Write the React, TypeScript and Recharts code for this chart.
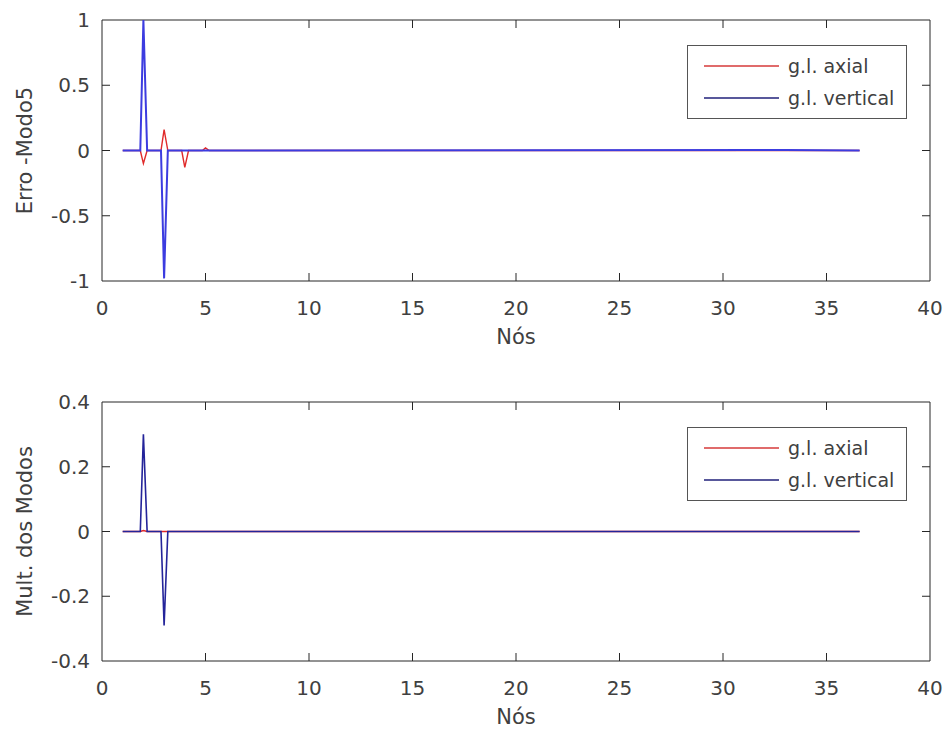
import React from 'react';
import { LineChart, Line, XAxis, YAxis, Legend, ReferenceLine } from 'recharts';

// node positions (spikes are drawn narrow around each node)
const nodes = [1, 1.85, 2, 2.18, 2.85, 3, 3.18, 3.85, 4, 4.18, 4.85, 5, 5.18, 33, 36.6];

// Erro - Modo5
const erroAxial = [0, 0, -0.1, 0, 0, 0.16, 0, 0, -0.13, 0, 0, 0.02, 0, 0, 0];
const erroVertical = [0, 0, 1, 0, 0, -0.98, 0, 0, 0, 0, 0, 0, 0, 0.004, 0];

// Mult. dos Modos
const multAxial = [0, 0, 0.003, 0, 0, 0, 0, 0, 0, 0, 0, 0, 0, 0, 0];
const multVertical = [0, 0, 0.3, 0, 0, -0.29, 0, 0, 0, 0, 0, 0, 0, 0, 0];

const xTicks = [0, 5, 10, 15, 20, 25, 30, 35, 40];
const erroTicks = [-1, -0.5, 0, 0.5, 1];
const multTicks = [-0.4, -0.2, 0, 0.2, 0.4];

const FONT = '"DejaVu Sans", Arial, sans-serif';
const AXIS = '#262626';
const TEXT = '#404040';
const TICK_LEN = 8;

const seriesNames = { axial: 'g.l. axial', vertical: 'g.l. vertical' };
const legendColors: Record<string, string> = { axial: '#d63a3a', vertical: '#20207a' };

const W = 947;
const PLOT_LEFT = 102;
const PLOT_RIGHT = 930;

function LegendBox({ payload }: any) {
    return (
        <div style={{ position: 'relative', width: 220, height: 74, border: '1px solid #555', background: '#fff', boxSizing: 'border-box', fontFamily: FONT, fontSize: 19, color: TEXT }}>
            {(payload || []).map((p: any, i: number) => (
                <div key={i} style={{ position: 'absolute', left: 0, top: 7 + i * 32, height: 26, display: 'flex', alignItems: 'center' }}>
                    <svg width={100} height={26} style={{ display: 'block' }}>
                        <line x1={16} x2={91} y1={13} y2={13} stroke={legendColors[p.dataKey]} strokeWidth={1.3} />
                    </svg>
                    <span>{p.value}</span>
                </div>
            ))}
        </div>
    );
}

function Panel({
    height,
    top,
    xAxisHeight,
    yLabel,
    yTicks,
    axial,
    vertical,
    blue,
    blueWidth,
}: {
    height: number;
    top: number;
    xAxisHeight: number;
    yLabel: string;
    yTicks: number[];
    axial: number[];
    vertical: number[];
    blue: string;
    blueWidth: number;
}) {
    const data = nodes.map((x, i) => ({ x, axial: axial[i], vertical: vertical[i] }));
    const xMin = xTicks[0];
    const xMax = xTicks[xTicks.length - 1];
    const yMin = yTicks[0];
    const yMax = yTicks[yTicks.length - 1];
    // tick length in data units (MATLAB style inward ticks on all four sides)
    const dx = (TICK_LEN * (xMax - xMin)) / (PLOT_RIGHT - PLOT_LEFT);
    const dy = (TICK_LEN * (yMax - yMin)) / (height - xAxisHeight - top);
    const tickStyle = { fontFamily: FONT, fontSize: 20, fill: TEXT };
    return (
        <LineChart
            width={W}
            height={height}
            data={data}
            margin={{ top, right: W - PLOT_RIGHT, bottom: 0, left: 0 }}
        >
            <XAxis
                dataKey="x"
                type="number"
                domain={[xMin, xMax]}
                ticks={xTicks}
                interval={0}
                height={xAxisHeight}
                tickSize={0}
                tickMargin={20}
                tick={tickStyle}
                axisLine={false}
                tickLine={false}
                label={(props: any) => {
                    const vb = props.viewBox;
                    return (
                        <text x={vb.x + vb.width / 2} y={vb.y + 56} textAnchor="middle" dominantBaseline="central" fontFamily={FONT} fontSize={21} fill={TEXT}>
                            Nós
                        </text>
                    );
                }}
            />
            <YAxis
                type="number"
                domain={[yMin, yMax]}
                ticks={yTicks}
                interval={0}
                width={PLOT_LEFT}
                tickSize={0}
                tickMargin={12}
                tick={tickStyle}
                axisLine={false}
                tickLine={false}
                label={(props: any) => {
                    const vb = props.viewBox;
                    const cx = vb.x + 25;
                    const cy = vb.y + vb.height / 2;
                    return (
                        <text x={cx} y={cy} transform={`rotate(-90 ${cx} ${cy})`} textAnchor="middle" dominantBaseline="central" fontFamily={FONT} fontSize={21} fill={TEXT}>
                            {yLabel}
                        </text>
                    );
                }}
            />
            {/* box */}
            <ReferenceLine x={xMin} stroke={AXIS} ifOverflow="visible" />
            <ReferenceLine x={xMax} stroke={AXIS} ifOverflow="visible" />
            <ReferenceLine y={yMin} stroke={AXIS} ifOverflow="visible" />
            <ReferenceLine y={yMax} stroke={AXIS} ifOverflow="visible" />
            {/* inward ticks */}
            {xTicks.slice(1, -1).map((t) => (
                <ReferenceLine key={`xb${t}`} segment={[{ x: t, y: yMin }, { x: t, y: yMin + dy }]} stroke={AXIS} ifOverflow="visible" />
            ))}
            {xTicks.slice(1, -1).map((t) => (
                <ReferenceLine key={`xt${t}`} segment={[{ x: t, y: yMax }, { x: t, y: yMax - dy }]} stroke={AXIS} ifOverflow="visible" />
            ))}
            {yTicks.slice(1, -1).map((t) => (
                <ReferenceLine key={`yl${t}`} segment={[{ x: xMin, y: t }, { x: xMin + dx, y: t }]} stroke={AXIS} ifOverflow="visible" />
            ))}
            {yTicks.slice(1, -1).map((t) => (
                <ReferenceLine key={`yr${t}`} segment={[{ x: xMax, y: t }, { x: xMax - dx, y: t }]} stroke={AXIS} ifOverflow="visible" />
            ))}
            <Legend
                layout="vertical"
                verticalAlign="middle"
                align="center"
                content={<LegendBox />}
                wrapperStyle={{ position: 'absolute', left: 687, top: top + 25, width: 220, height: 74 }}
            />
            <Line
                type="linear"
                dataKey="axial"
                name={seriesNames.axial}
                stroke="#e02a2a"
                strokeWidth={1.4}
                dot={false}
                activeDot={false}
                isAnimationActive={false}
            />
            <Line
                type="linear"
                dataKey="vertical"
                name={seriesNames.vertical}
                stroke={blue}
                strokeWidth={blueWidth}
                dot={false}
                activeDot={false}
                isAnimationActive={false}
            />
        </LineChart>
    );
}

export default function App() {
    return (
        <div style={{ position: 'absolute', left: 0, top: 0, width: W, height: 739, background: '#fff' }}>
            <Panel
                height={370}
                top={20}
                xAxisHeight={89}
                yLabel="Erro -Modo5"
                yTicks={erroTicks}
                axial={erroAxial}
                vertical={erroVertical}
                blue="#3c3ce0"
                blueWidth={2}
            />
            <Panel
                height={369}
                top={32}
                xAxisHeight={78}
                yLabel="Mult. dos Modos"
                yTicks={multTicks}
                axial={multAxial}
                vertical={multVertical}
                blue="#24249a"
                blueWidth={1.6}
            />
        </div>
    );
}
